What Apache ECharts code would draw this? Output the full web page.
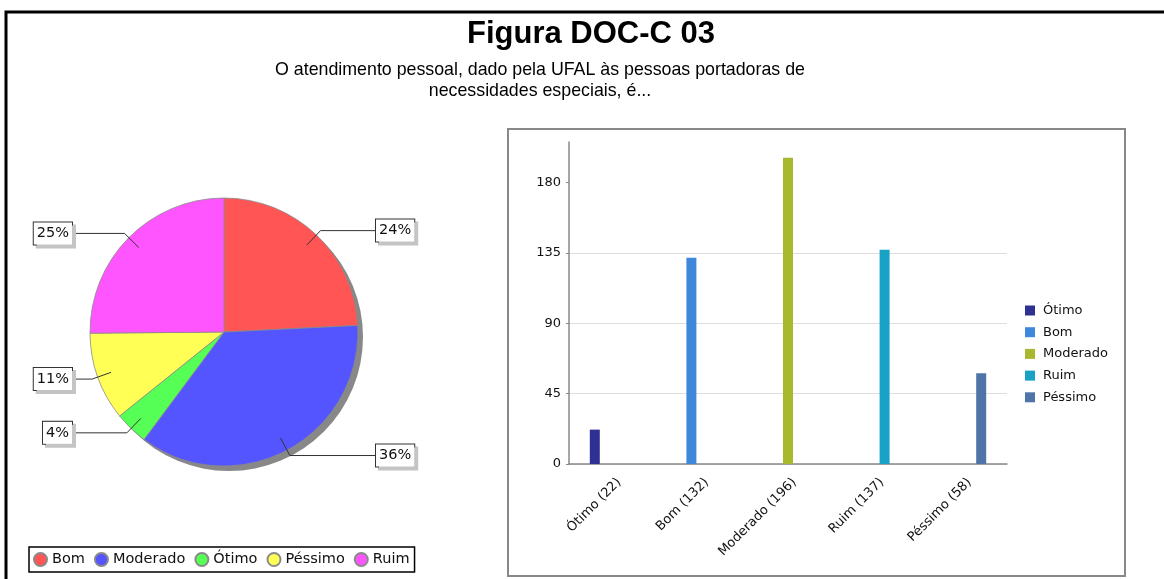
<!DOCTYPE html>
<html><head><meta charset="utf-8">
<script src="https://cdn.jsdelivr.net/npm/echarts@6/dist/echarts.min.js"></script>
<style>html,body{margin:0;padding:0;background:#fff}#c{width:1164px;height:579px}</style>
</head><body><div id="c"></div>
<script>
const titleText = 'Figura DOC-C 03';
const subtitleText = 'O atendimento pessoal, dado pela UFAL às pessoas portadoras de\nnecessidades especiais, é...';
const pieCategories = ['Bom', 'Moderado', 'Ótimo', 'Péssimo', 'Ruim'];
const pieValues = [132, 196, 22, 58, 137];
const pieColors = ['#ff5555', '#5555ff', '#55ff55', '#ffff55', '#ff55ff'];
const barCategories = ['Ótimo', 'Bom', 'Moderado', 'Ruim', 'Péssimo'];
const barValues = [22, 132, 196, 137, 58];
const barColors = ['#2e3192', '#3f87db', '#a8b930', '#17a2c6', '#4f74a7'];
const yTicks = [0, 45, 90, 135, 180];
const yMax = 206;

const FONT = 'DejaVu Sans';
const pieCenter = [224, 332];
const labelReach = 152;
const chart = echarts.init(document.getElementById('c'), null, {renderer: 'canvas'});
const pieTotal = pieValues.reduce((a, b) => a + b, 0);

const barSeries = barCategories.map((c, i) => ({
  type: 'bar', name: 'b:' + c, xAxisIndex: 0, yAxisIndex: 0,
  barWidth: 10, barGap: '-10%',
  itemStyle: {color: barColors[i]},
  data: barCategories.map((_, j) => (j === i ? barValues[i] : '-')),
  silent: true
}));

const option = {
  animation: false,
  backgroundColor: '#fff',
  title: [
    {text: titleText, left: 462, top: 14,
     textStyle: {fontFamily: 'Liberation Sans', fontWeight: 'bold', fontSize: 31, color: '#000'}},
    {text: subtitleText, left: 535, top: 55, textAlign: 'center',
     textStyle: {fontFamily: 'Liberation Sans', fontWeight: 'normal', fontSize: 17.8, lineHeight: 21, color: '#000'}}
  ],
  graphic: [
    {type: 'rect', z: -10, shape: {x: 6, y: 12, width: 1170, height: 600}, style: {fill: 'none', stroke: '#000', lineWidth: 3}, silent: true},
    {type: 'rect', z: -10, shape: {x: 508, y: 129, width: 617, height: 447}, style: {fill: 'none', stroke: '#888', lineWidth: 2}, silent: true}
  ],
  legend: [
    {data: pieCategories, left: 29, top: 547, orient: 'horizontal', icon: 'circle',
     itemWidth: 13, itemHeight: 13, itemGap: 9, padding: [5, 5, 5, 4],
     borderColor: '#000', borderWidth: 1.5, selectedMode: false,
     textStyle: {fontFamily: FONT, fontSize: 14.5, color: '#111'}},
    {data: barCategories.map(c => 'b:' + c), formatter: n => n.slice(2), orient: 'vertical',
     left: 1020, top: 299, icon: 'rect', itemWidth: 10, itemHeight: 10, itemGap: 8.7, selectedMode: false,
     textStyle: {fontFamily: FONT, fontSize: 13, color: '#111', padding: [0, 0, 0, 3]}}
  ],
  grid: {left: 569, top: 142, width: 438, height: 322, containLabel: false},
  xAxis: {
    type: 'category', data: barCategories.map((c, i) => c + ' (' + barValues[i] + ')'),
    axisLine: {lineStyle: {color: '#888', width: 1.5}},
    axisTick: {show: false},
    axisLabel: {rotate: 45, fontFamily: FONT, fontSize: 13, color: '#111', margin: 10, interval: 0,
                verticalAlign: 'top', lineHeight: 18}
  },
  yAxis: {
    type: 'value', min: 0, max: yMax, interval: 45,
    axisLine: {show: true, lineStyle: {color: '#888', width: 1.5}},
    axisTick: {show: true, length: 3, lineStyle: {color: '#888'}, customValues: yTicks},
    axisLabel: {fontFamily: FONT, fontSize: 13, color: '#111', margin: 8, customValues: yTicks},
    splitLine: {show: true, showMaxLine: false, lineStyle: {color: '#dedede', width: 1}}
  },
  series: [
    {type: 'pie', name: 'pie', left: 0, top: 0, width: 446, height: 579, center: pieCenter, radius: 134,
     startAngle: 90, clockwise: true, z: 3, silent: true, avoidLabelOverlap: false,
     itemStyle: {borderColor: '#8a8a8a', borderWidth: 0.8},
     label: {show: false}, labelLine: {show: false}, emphasis: {disabled: true},
     data: pieCategories.map((n, i) => ({name: n, value: pieValues[i], itemStyle: {color: pieColors[i]}}))},
    {type: 'pie', name: 'shadow', left: 0, top: 0, width: 446, height: 579, center: [pieCenter[0] + 5, pieCenter[1] + 5], radius: 134,
     z: 1, silent: true, label: {show: false}, labelLine: {show: false}, emphasis: {disabled: true},
     itemStyle: {color: '#888'},
     data: [{name: 'sombra', value: pieTotal}]},
    {type: 'pie', name: 'labels', left: 0, top: 0, width: 446, height: 579, center: pieCenter, radius: 120,
     startAngle: 90, clockwise: true, z: 5, silent: true, avoidLabelOverlap: false, emphasis: {disabled: true},
     itemStyle: {color: 'rgba(0,0,0,0)'},
     label: {show: true, position: 'outside', distanceToLabelLine: 0,
       formatter: p => Math.round(p.percent) + '%',
       fontFamily: FONT, fontSize: 14.5, color: '#111', backgroundColor: '#fff', borderColor: '#333', borderWidth: 1,
       padding: [4, 3, 3, 3], shadowColor: '#c4c4c4', shadowOffsetX: 3, shadowOffsetY: 3, shadowBlur: 0},
     labelLine: {show: true, length: 20, length2: 5, lineStyle: {color: '#333', width: 1}},
     labelLayout: function (p) {
       const pts = p.labelLinePoints;
       if (!pts) return {};
       const isLeft = pts[1][0] < pieCenter[0];
       const endX = pieCenter[0] + (isLeft ? -labelReach : labelReach);
       const newPts = [pts[0].slice(), pts[1].slice(), [endX, pts[1][1]]];
       return {x: endX, y: pts[1][1], align: isLeft ? 'right' : 'left', verticalAlign: 'middle', labelLinePoints: newPts};
     },
     data: pieCategories.map((n, i) => ({name: n, value: pieValues[i]}))},
    ...barSeries
  ]
};
chart.setOption(option);
</script>
</body></html>
